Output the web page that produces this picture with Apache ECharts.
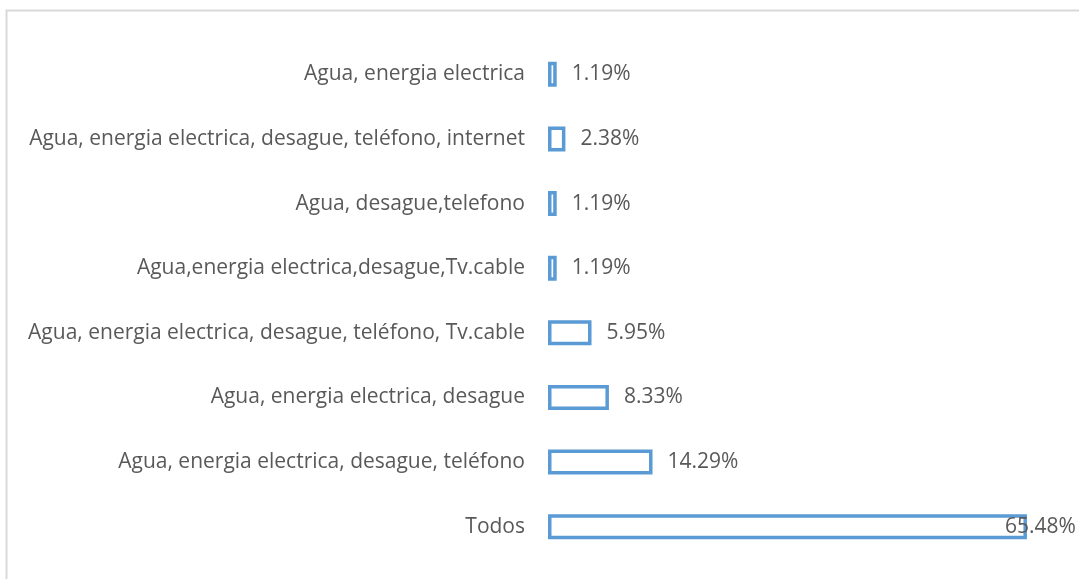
<!DOCTYPE html>
<html lang="es">
<head>
	<meta charset="utf-8">
	<title>Servicios</title>
	<script src="https://cdn.jsdelivr.net/npm/echarts@6/dist/echarts.min.js"></script>
	<style>
		html, body { margin: 0; padding: 0; background: #fff; }
		#chart { width: 1079px; height: 579px; }
	</style>
</head>
<body>
<div id="chart"></div>
<script>
    // categorias, de arriba hacia abajo
    var categorias = [
        'Agua, energia electrica',
        'Agua, energia electrica, desague, teléfono, internet',
        'Agua, desague,telefono',
        'Agua,energia electrica,desague,Tv.cable',
        'Agua, energia electrica, desague, teléfono, Tv.cable',
        'Agua, energia electrica, desague',
        'Agua, energia electrica, desague, teléfono',
        'Todos'
    ];
    var porcentajes = [1.19, 2.38, 1.19, 1.19, 5.95, 8.33, 14.29, 65.48];

    var datos = porcentajes.map(function (v, i) {
        var item = { value: v };
        // el ultimo rotulo queda encima del final de la barra
        if (i === porcentajes.length - 1) {
            item.label = { offset: [-37, 0] };
        }
        return item;
    });

    var chart = echarts.init(document.getElementById('chart'));
    chart.setOption({
        animation: false,
        textStyle: { fontFamily: 'Open Sans' },
        graphic: [{
            type: 'rect',
            shape: { x: 6.5, y: 10.5, width: 1200, height: 800 },
            style: { fill: 'none', stroke: '#D9D9D9', lineWidth: 2 },
            silent: true
        }],
        grid: { left: 548, right: 19, top: 42, bottom: 20 },
        xAxis: {
            type: 'value',
            min: 0,
            max: 70,
            show: false
        },
        yAxis: {
            type: 'category',
            inverse: true,
            data: categorias,
            axisLine: { show: false },
            axisTick: { show: false },
            axisLabel: { color: '#595959', fontSize: 21, margin: 23 }
        },
        series: [{
            type: 'bar',
            data: datos,
            barWidth: 25,
            itemStyle: { color: '#ffffff', borderColor: '#5B9BD5', borderWidth: 3.5 },
            label: {
                show: true,
                position: 'right',
                distance: 15,
                color: '#595959',
                fontSize: 21,
                formatter: function (p) { return p.value.toFixed(2) + '%'; }
            }
        }]
    });
</script>
</body>
</html>
